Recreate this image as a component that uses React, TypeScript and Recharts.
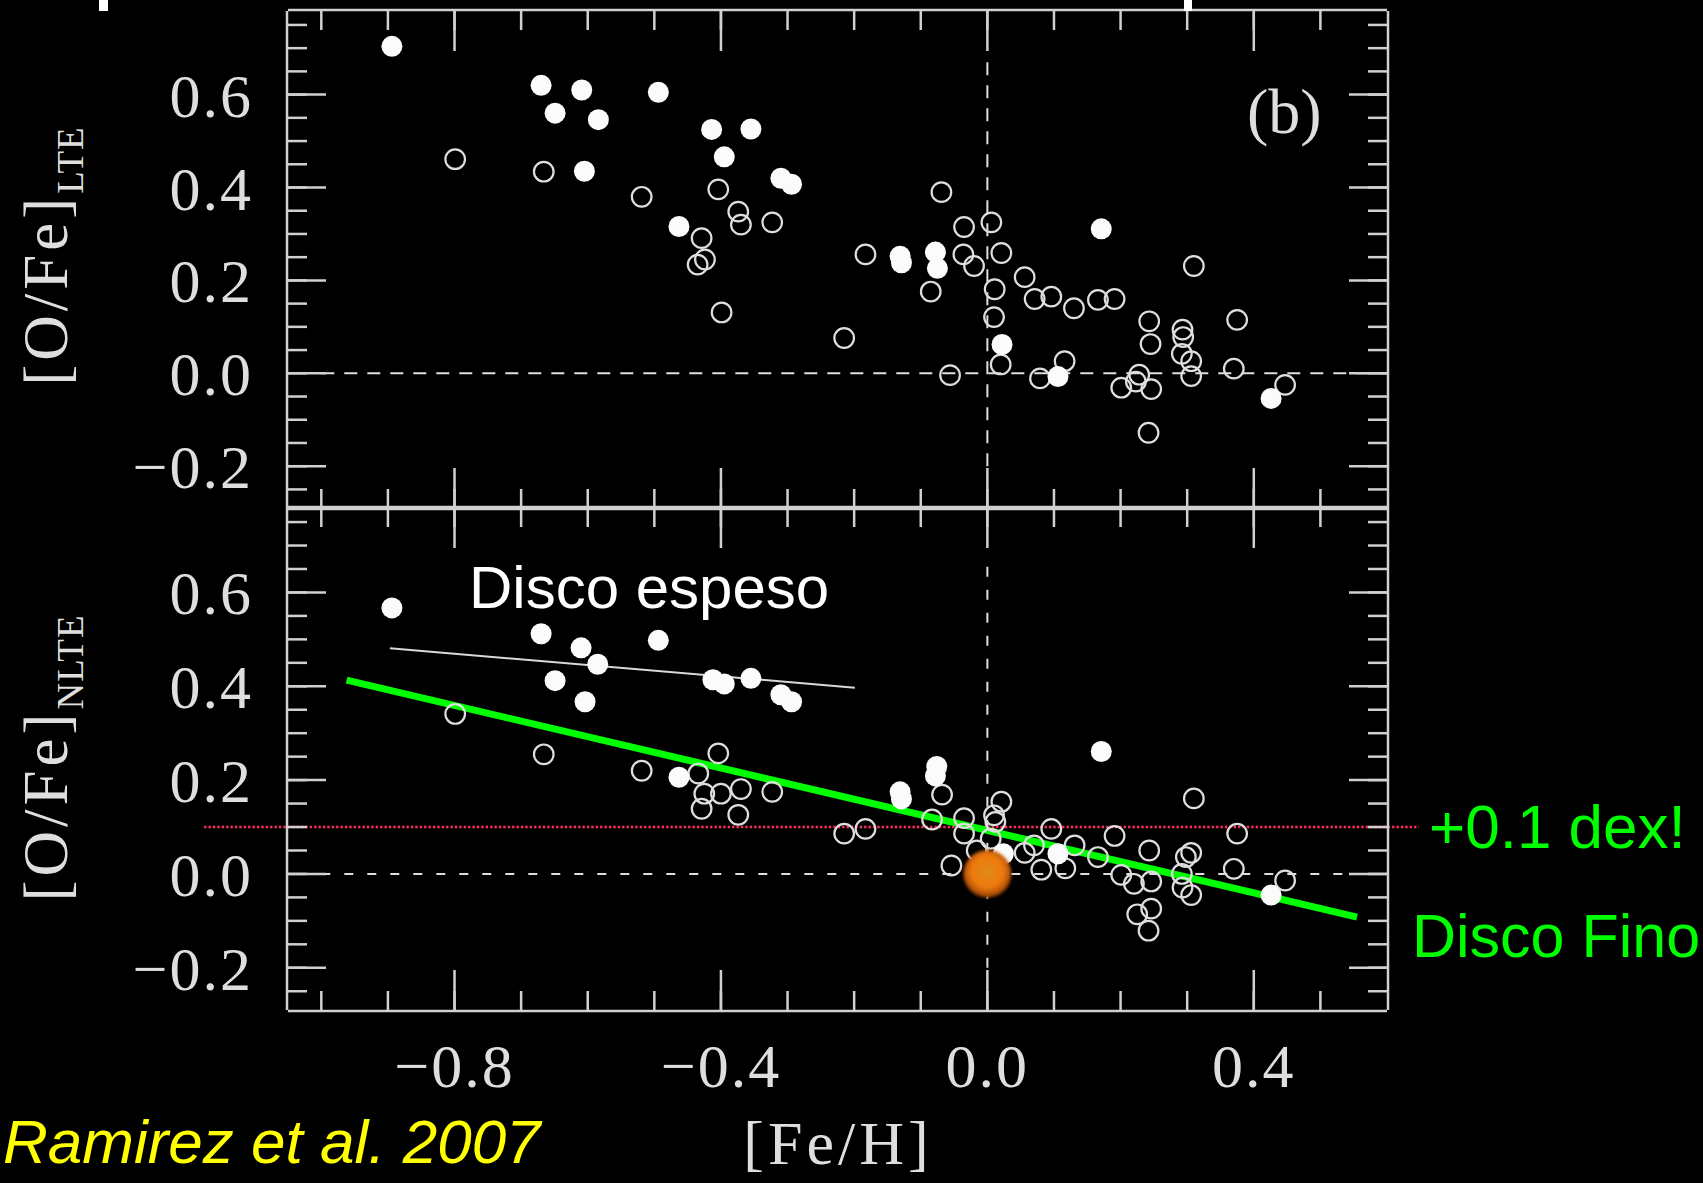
import React from "react";
import { ScatterChart, Scatter, XAxis, YAxis, ReferenceLine } from "recharts";

const W = 1703;
const H = 1183;

// plot frame (shared x range, two stacked panels)
const PLOT_LEFT = 288;
const PLOT_RIGHT = 1387;
const TOP_PANEL = { top: 11, bottom: 508 };
const LOW_PANEL = { top: 508, bottom: 1010 };

const X_DOMAIN: [number, number] = [-1.05, 0.6];
const Y_DOMAIN: [number, number] = [-0.29, 0.78];

const xMinorTicks = [-1.0, -0.9, -0.8, -0.7, -0.6, -0.5, -0.4, -0.3, -0.2, -0.1, 0.0, 0.1, 0.2, 0.3, 0.4, 0.5];
const xMajorTicks = [-0.8, -0.4, 0.0, 0.4];
const yMinorTicks = [
  -0.25, -0.2, -0.15, -0.1, -0.05, 0.0, 0.05, 0.1, 0.15, 0.2, 0.25, 0.3, 0.35, 0.4, 0.45, 0.5, 0.55, 0.6,
  0.65, 0.7, 0.75,
];
const yMajorTicks = [-0.2, 0.0, 0.2, 0.4, 0.6];

// [Fe/H], [O/Fe] LTE — thick disk (filled) and thin disk (open)
const lteFilled: [number, number][] = [
  [-0.894, 0.704], [-0.67, 0.62], [-0.609, 0.61], [-0.649, 0.56], [-0.584, 0.546], [-0.494, 0.605],
  [-0.605, 0.435], [-0.414, 0.525], [-0.355, 0.526], [-0.395, 0.466], [-0.31, 0.42], [-0.294, 0.407],
  [-0.463, 0.316], [-0.131, 0.252], [-0.129, 0.238], [-0.078, 0.261], [-0.075, 0.226], [0.171, 0.311],
  [0.022, 0.062], [0.106, -0.007], [0.426, -0.054],
];
const lteOpen: [number, number][] = [
  [-0.799, 0.461], [-0.666, 0.434], [-0.519, 0.38], [-0.404, 0.396], [-0.374, 0.348], [-0.37, 0.32],
  [-0.323, 0.325], [-0.429, 0.291], [-0.424, 0.245], [-0.435, 0.234], [-0.399, 0.131], [-0.215, 0.076],
  [-0.069, 0.39], [-0.035, 0.315], [0.006, 0.325], [-0.183, 0.256], [-0.036, 0.256], [-0.02, 0.231],
  [0.021, 0.259], [-0.085, 0.176], [0.056, 0.207], [0.011, 0.181], [0.071, 0.16], [0.096, 0.165],
  [0.13, 0.14], [0.166, 0.158], [0.191, 0.16], [0.01, 0.121], [0.02, 0.019], [-0.056, -0.004],
  [0.116, 0.026], [0.079, -0.011], [0.243, 0.112], [0.245, 0.063], [0.293, 0.094], [0.294, 0.078],
  [0.292, 0.042], [0.306, 0.026], [0.306, -0.006], [0.31, 0.231], [0.375, 0.115], [0.37, 0.01],
  [0.447, -0.025], [0.201, -0.031], [0.223, -0.018], [0.228, -0.003], [0.246, -0.034], [0.242, -0.128],
];

// [Fe/H], [O/Fe] NLTE
const nlteFilled: [number, number][] = [
  [-0.894, 0.567], [-0.67, 0.512], [-0.61, 0.482], [-0.585, 0.447], [-0.649, 0.412], [-0.604, 0.367],
  [-0.494, 0.498], [-0.412, 0.414], [-0.395, 0.405], [-0.355, 0.417], [-0.31, 0.382], [-0.294, 0.367],
  [-0.463, 0.206], [-0.131, 0.175], [-0.129, 0.16], [-0.076, 0.229], [-0.078, 0.209], [0.171, 0.261],
  [0.024, 0.043], [0.106, 0.043], [0.426, -0.045],
];
const nlteOpen: [number, number][] = [
  [-0.799, 0.341], [-0.666, 0.255], [-0.519, 0.22], [-0.404, 0.257], [-0.434, 0.214], [-0.425, 0.171],
  [-0.429, 0.139], [-0.4, 0.171], [-0.37, 0.181], [-0.374, 0.126], [-0.323, 0.175], [-0.215, 0.086],
  [-0.183, 0.096], [-0.068, 0.169], [-0.083, 0.116], [-0.035, 0.119], [-0.035, 0.086], [-0.054, 0.018],
  [-0.016, 0.05], [0.021, 0.154], [0.01, 0.125], [0.012, 0.111], [0.005, 0.075], [0.056, 0.045],
  [0.07, 0.061], [0.081, 0.009], [0.096, 0.096], [0.117, 0.012], [0.131, 0.061], [0.166, 0.036],
  [0.191, 0.081], [0.201, -0.002], [0.22, -0.021], [0.246, -0.016], [0.243, 0.05], [0.225, -0.086],
  [0.246, -0.074], [0.242, -0.121], [0.298, 0.036], [0.306, 0.045], [0.292, 0.0], [0.293, -0.029],
  [0.306, -0.045], [0.31, 0.161], [0.375, 0.086], [0.37, 0.011], [0.447, -0.014],
];

// fits and markers in the NLTE panel
const thickDiskFit: [number, number][] = [[-0.897, 0.481], [-0.199, 0.397]];
const thinDiskFit: [number, number][] = [[-0.962, 0.413], [0.555, -0.092]];
const offsetLevel = 0.1;
const offsetSpan: [number, number] = [-1.176, 0.648];
const sun = [{ x: 0.0, y: 0.0 }];

const FRAME = "#d0d0d0";
const INK = "#dedede";
const SERIF = "'Liberation Serif', 'DejaVu Serif', serif";
const SANS = "'Liberation Sans', Arial, sans-serif";
const GREEN = "#00ff00";

const pts = (arr: [number, number][]) => arr.map(([x, y]) => ({ x, y }));
const fmt = (v: number) => v.toFixed(1).replace("-", "\u2212");

const FilledDot = (p: any) => <circle cx={p.cx} cy={p.cy} r={10.5} fill="#fbfbfb" />;
const OpenDot = (p: any) => <circle cx={p.cx} cy={p.cy} r={9.8} fill="none" stroke={INK} strokeWidth={2.2} />;
const SunDot = (p: any) => (
  <g>
    <defs>
      <radialGradient id="sunFill" cx="50%" cy="45%" r="55%">
        <stop offset="0%" stopColor="#e08a1c" />
        <stop offset="60%" stopColor="#ee7a0c" />
        <stop offset="88%" stopColor="#b04e06" />
        <stop offset="100%" stopColor="#5a2600" />
      </radialGradient>
      <filter id="sunSoft" x="-30%" y="-30%" width="160%" height="160%">
        <feGaussianBlur stdDeviation="1.4" />
      </filter>
    </defs>
    <circle cx={p.cx} cy={p.cy} r={24} fill="url(#sunFill)" filter="url(#sunSoft)" />
  </g>
);

// tick marks without a label
const Bare = () => <g />;

const lineStyle = { stroke: FRAME, strokeWidth: 2.5 };
const tickFont = { fill: INK, fontSize: 62, fontFamily: SERIF, letterSpacing: 2 };

function Panel({
  frame,
  filled,
  open,
  lower,
}: {
  frame: { top: number; bottom: number };
  filled: [number, number][];
  open: [number, number][];
  lower: boolean;
}) {
  const dash = lower ? "9 14" : "13 10";
  return (
    <div style={{ position: "absolute", left: 0, top: 0 }}>
      <ScatterChart
        width={W}
        height={H}
        margin={{ top: frame.top - 2, bottom: H - frame.bottom - 2, left: PLOT_LEFT - 2, right: W - PLOT_RIGHT - 2 }}
      >
        <XAxis xAxisId="bm" orientation="bottom" type="number" dataKey="x" domain={X_DOMAIN} allowDataOverflow
          ticks={xMinorTicks} interval={0} height={1} tickSize={-20} tick={Bare} axisLine={lineStyle} tickLine={lineStyle} />
        <XAxis xAxisId="bM" orientation="bottom" type="number" dataKey="x" domain={X_DOMAIN} allowDataOverflow
          ticks={xMajorTicks} interval={0} height={1} tickSize={-40} tickMargin={73}
          tick={lower ? tickFont : Bare} tickFormatter={fmt} axisLine={false} tickLine={lineStyle} />
        <XAxis xAxisId="tm" orientation="top" type="number" dataKey="x" domain={X_DOMAIN} allowDataOverflow
          ticks={xMinorTicks} interval={0} height={1} tickSize={-20} tick={Bare} axisLine={lineStyle} tickLine={lineStyle} />
        <XAxis xAxisId="tM" orientation="top" type="number" dataKey="x" domain={X_DOMAIN} allowDataOverflow
          ticks={xMajorTicks} interval={0} height={1} tickSize={-40} tick={Bare} axisLine={false} tickLine={lineStyle} />
        <YAxis yAxisId="lm" orientation="left" type="number" dataKey="y" domain={Y_DOMAIN} allowDataOverflow
          ticks={yMinorTicks} interval={0} width={1} tickSize={-20} tick={Bare} axisLine={lineStyle} tickLine={lineStyle} />
        <YAxis yAxisId="lM" orientation="left" type="number" dataKey="y" domain={Y_DOMAIN} allowDataOverflow
          ticks={yMajorTicks} interval={0} width={1} tickSize={-38} tickMargin={73}
          tick={tickFont} tickFormatter={fmt} axisLine={false} tickLine={lineStyle} />
        <YAxis yAxisId="rm" orientation="right" type="number" dataKey="y" domain={Y_DOMAIN} allowDataOverflow
          ticks={yMinorTicks} interval={0} width={1} tickSize={-20} tick={Bare} axisLine={lineStyle} tickLine={lineStyle} />
        <YAxis yAxisId="rM" orientation="right" type="number" dataKey="y" domain={Y_DOMAIN} allowDataOverflow
          ticks={yMajorTicks} interval={0} width={1} tickSize={-38} tick={Bare} axisLine={false} tickLine={lineStyle} />

        <ReferenceLine xAxisId="bM" yAxisId="lM" segment={[{ x: -1.0, y: 0 }, { x: 0.6, y: 0 }]}
          stroke={INK} strokeWidth={2} strokeDasharray={dash} />
        <ReferenceLine xAxisId="bM" yAxisId="lM" segment={[{ x: 0, y: -0.2 }, { x: 0, y: 0.67 }]}
          stroke={INK} strokeWidth={2} strokeDasharray={lower ? "10 13" : "13 10"} />

        {lower && (
          <ReferenceLine xAxisId="bM" yAxisId="lM" ifOverflow="visible"
            segment={[{ x: offsetSpan[0], y: offsetLevel }, { x: offsetSpan[1], y: offsetLevel }]}
            stroke="#ff2c60" strokeWidth={2.6} strokeDasharray="2.4 2" />
        )}
        {lower && (
          <ReferenceLine xAxisId="bM" yAxisId="lM"
            segment={[{ x: thickDiskFit[0][0], y: thickDiskFit[0][1] }, { x: thickDiskFit[1][0], y: thickDiskFit[1][1] }]}
            stroke="#d8d8d8" strokeWidth={2} />
        )}

        <Scatter xAxisId="bM" yAxisId="lM" data={pts(open)} shape={OpenDot} isAnimationActive={false} />
        <Scatter xAxisId="bM" yAxisId="lM" data={pts(filled)} shape={FilledDot} isAnimationActive={false} />

        {lower && (
          <ReferenceLine xAxisId="bM" yAxisId="lM"
            segment={[{ x: thinDiskFit[0][0], y: thinDiskFit[0][1] }, { x: thinDiskFit[1][0], y: thinDiskFit[1][1] }]}
            stroke={GREEN} strokeWidth={7} />
        )}
        {lower && <Scatter xAxisId="bM" yAxisId="lM" data={sun} shape={SunDot} isAnimationActive={false} />}
      </ScatterChart>
    </div>
  );
}

export default function App() {
  return (
    <div style={{ position: "fixed", left: 0, top: 0, width: W, height: H, background: "#000", overflow: "hidden" }}>
      <Panel frame={TOP_PANEL} filled={lteFilled} open={lteOpen} lower={false} />
      <Panel frame={LOW_PANEL} filled={nlteFilled} open={nlteOpen} lower={true} />
      <svg width={W} height={H} style={{ position: "absolute", left: 0, top: 0, pointerEvents: "none" }}>
        {/* clipped glyph stubs along the top edge */}
        <rect x={99} y={0} width={9} height={11} fill="#fff" />
        <rect x={1184} y={0} width={8} height={11} fill="#fff" />

        <text x={1247} y={133} fontFamily={SERIF} fontSize={64} fill={INK}>(b)</text>

        <text transform="translate(67, 256) rotate(-90)" textAnchor="middle" fontFamily={SERIF} fontSize={63}
          fill={INK} letterSpacing={4}>
          [O/Fe]<tspan fontSize={37} dy={16} letterSpacing={1}>LTE</tspan>
        </text>
        <text transform="translate(67, 758) rotate(-90)" textAnchor="middle" fontFamily={SERIF} fontSize={63}
          fill={INK} letterSpacing={4}>
          [O/Fe]<tspan fontSize={37} dy={16} letterSpacing={1}>NLTE</tspan>
        </text>
        <text x={838} y={1164} textAnchor="middle" fontFamily={SERIF} fontSize={62} fill={INK} letterSpacing={4}>
          [Fe/H]
        </text>

        <text x={469} y={608} fontFamily={SANS} fontSize={60} fill="#ffffff">Disco espeso</text>
        <text x={1429} y={848} fontFamily={SANS} fontSize={62} fill={GREEN}>+0.1 dex!</text>
        <text x={1412} y={957} fontFamily={SANS} fontSize={61} fill={GREEN}>Disco Fino</text>
        <text x={3} y={1163} fontFamily={SANS} fontStyle="italic" fontSize={62} fill="#ffff00">
          Ramirez et al. 2007
        </text>
      </svg>
    </div>
  );
}
